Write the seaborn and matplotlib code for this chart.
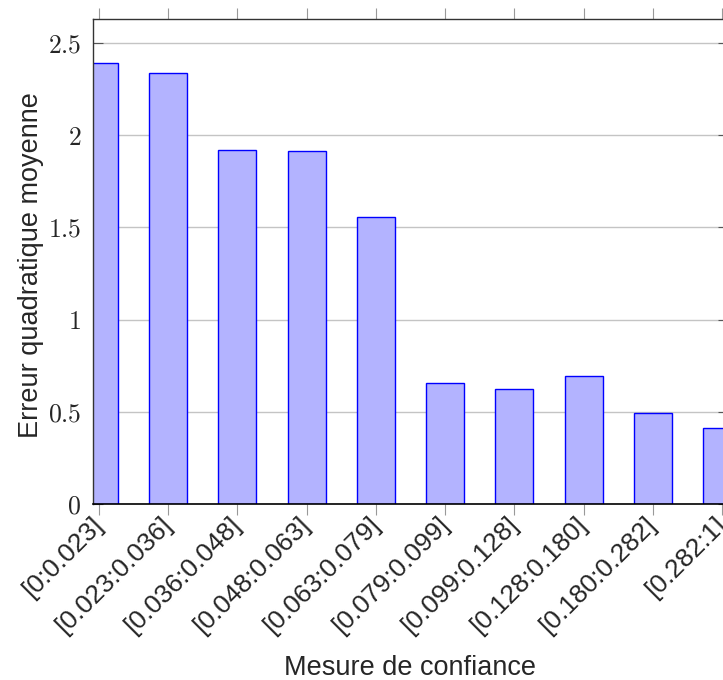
import matplotlib
matplotlib.use("Agg")
import matplotlib.pyplot as plt
import seaborn as sns
import pandas as pd

# confidence buckets and mean squared error per bucket
buckets = ['[0:0.023]', '[0.023:0.036]', '[0.036:0.048]', '[0.048:0.063]',
           '[0.063:0.079]', '[0.079:0.099]', '[0.099:0.128]', '[0.128:0.180]',
           '[0.180:0.282]', '[0.282:1]']
mse = [2.394, 2.339, 1.920, 1.916, 1.556, 0.655, 0.622, 0.692, 0.492, 0.414]
yticks = [0, 0.5, 1, 1.5, 2, 2.5]

sns.set_style('white')
plt.rcParams['font.family'] = ['Liberation Sans', 'DejaVu Sans']
plt.rcParams['mathtext.fontset'] = 'cm'

df = pd.DataFrame({'bucket': buckets, 'mse': mse})

fig = plt.figure(figsize=(7.23, 6.80), dpi=100)
# axes runs past the right edge of the figure, like the cropped original
ax = fig.add_axes([93 / 723, 176 / 680, 635 / 723, 485 / 680])

sns.barplot(data=df, x='bucket', y='mse', ax=ax, color='#b3b3ff',
            edgecolor='#0000ff', linewidth=1.0, width=0.55, saturation=1)

ax.set_xlim(-0.087, 9.087)
ax.set_ylim(0, 2.63)
ax.set_axisbelow(True)
ax.yaxis.grid(True, color='#c4c4c4', linewidth=1.0)
ax.xaxis.grid(False)

ax.set_yticks(yticks)
ax.set_yticklabels(['$%g$' % v for v in yticks], fontsize=18.5)
ax.tick_params(axis='y', left=True, right=True, direction='in', length=7.5,
               width=0.8, color='#555555', pad=8.5)
ax.set_xticks(range(len(buckets)))
ax.set_xticklabels(buckets, rotation=45, ha='right', va='center',
                   rotation_mode='anchor', fontsize=19)
ax.tick_params(axis='x', top=True, bottom=True, direction='out', length=8,
               width=0.8, color='#999999', pad=4)

for side in ['left', 'top', 'right']:
    ax.spines[side].set_color('#333333')
    ax.spines[side].set_linewidth(1.0)
ax.spines['bottom'].set_color('black')
ax.spines['bottom'].set_linewidth(1.2)

ax.set_xlabel('Mesure de confiance', fontsize=19.5)
ax.set_ylabel('Erreur quadratique moyenne', fontsize=19.5)
ax.xaxis.set_label_coords(0.5, -0.312)
ax.yaxis.set_label_coords(-0.077, 0.493)

fig.savefig('out.png', dpi=100)
